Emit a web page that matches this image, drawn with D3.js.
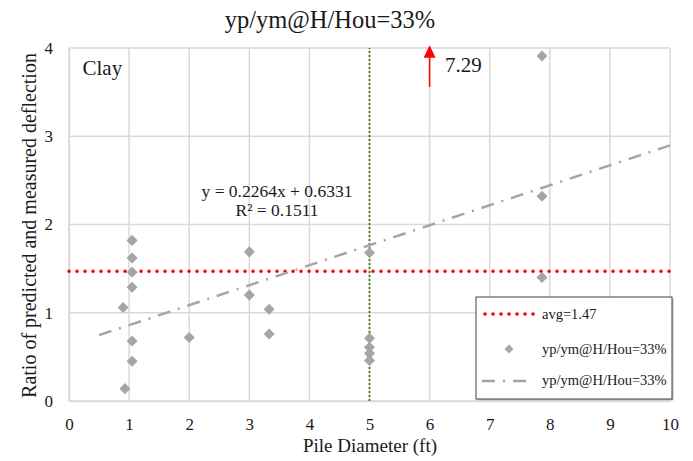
<!DOCTYPE html>
<html>
<head>
<meta charset="utf-8">
<script src="https://cdn.jsdelivr.net/npm/d3@7"></script>
<style>
  body { margin: 0; background: #fff; }
</style>
</head>
<body>
<div id="chart"></div>
<script>
// Data
const pileDiameter = [1.05, 1.05, 1.05, 1.05, 0.9, 1.05, 1.05, 0.93, 2.0, 3.0, 3.0, 3.33, 3.33, 5.0, 5.0, 5.0, 5.0, 5.0, 7.87, 7.87, 7.87];
const ratio = [1.82, 1.62, 1.46, 1.29, 1.06, 0.68, 0.45, 0.14, 0.72, 1.69, 1.20, 1.04, 0.76, 1.68, 0.71, 0.61, 0.54, 0.46, 3.91, 2.32, 1.40];
const avgValue = 1.47;
const trendSlope = 0.2264, trendIntercept = 0.6331;
const trendRange = [0.5, 10];
const xTicks = [0, 1, 2, 3, 4, 5, 6, 7, 8, 9, 10];
const yTicks = [0, 1, 2, 3, 4];
const seriesName = "yp/ym@H/Hou=33%";

const width = 693, height = 461;
const margin = { left: 69, right: 23, top: 48, bottom: 60 };
const serif = "'Liberation Serif', 'Times New Roman', Times, serif";

const svg = d3.select("#chart").append("svg")
    .attr("width", width)
    .attr("height", height)
    .style("font-family", serif);

const x = d3.scaleLinear().domain([0, 10]).range([margin.left, width - margin.right]);
const y = d3.scaleLinear().domain([0, 4]).range([height - margin.bottom, margin.top]);

// Gridlines
svg.append("g").selectAll("line")
    .data(xTicks)
    .enter().append("line")
    .attr("x1", d => x(d)).attr("x2", d => x(d))
    .attr("y1", y(0)).attr("y2", y(4))
    .attr("stroke", "#d9d9d9").attr("stroke-width", 1.5);

svg.append("g").selectAll("line")
    .data(yTicks)
    .enter().append("line")
    .attr("x1", x(0)).attr("x2", x(10))
    .attr("y1", d => y(d)).attr("y2", d => y(d))
    .attr("stroke", "#d9d9d9").attr("stroke-width", 1.5);

// Axes (labels only; lines come from grid)
const xAxis = svg.append("g")
    .attr("transform", `translate(0,${y(0)})`)
    .call(d3.axisBottom(x).tickValues(xTicks).tickFormat(d3.format("d")).tickSize(0).tickPadding(17));
xAxis.attr("font-family", null).attr("font-size", null);
xAxis.select(".domain").attr("stroke", "#d9d9d9").attr("stroke-width", 1.5);
xAxis.selectAll("text").style("font-size", "17px").style("font-family", serif).attr("fill", "#1a1a1a");

const yAxis = svg.append("g")
    .attr("transform", `translate(${x(0)},0)`)
    .call(d3.axisLeft(y).tickValues(yTicks).tickFormat(d3.format("d")).tickSize(0).tickPadding(16));
yAxis.attr("font-family", null).attr("font-size", null);
yAxis.select(".domain").attr("stroke", "#d9d9d9").attr("stroke-width", 1.5);
yAxis.selectAll("text").style("font-size", "17px").style("font-family", serif).attr("fill", "#1a1a1a");

// Vertical green dotted line at x = 5
svg.append("line")
    .attr("x1", x(5)).attr("x2", x(5))
    .attr("y1", y(0)).attr("y2", y(4))
    .attr("stroke", "#548235").attr("stroke-width", 2)
    .attr("stroke-dasharray", "2,2");

// Average line
svg.append("line")
    .attr("x1", x(0)).attr("x2", x(10))
    .attr("y1", y(avgValue)).attr("y2", y(avgValue))
    .attr("stroke", "#ff0000").attr("stroke-width", 3.5)
    .attr("stroke-linecap", "round")
    .attr("stroke-dasharray", "0.1,7.9");

// Trendline
const trend = trendRange.map(d => [d, trendSlope * d + trendIntercept]);
svg.append("path")
    .datum(trend)
    .attr("d", d3.line().x(d => x(d[0])).y(d => y(d[1])))
    .attr("fill", "none")
    .attr("stroke", "#a5a5a5").attr("stroke-width", 2.5)
    .attr("stroke-dasharray", "13,8,2,8");

// Points
const diamond = d3.symbol().type(d3.symbolDiamond2).size(78);
svg.append("g").selectAll("path")
    .data(pileDiameter.map((d, i) => [d, ratio[i]]))
    .enter().append("path")
    .attr("d", diamond)
    .attr("transform", d => `translate(${x(d[0])},${y(d[1])})`)
    .attr("fill", "#a5a5a5");

// Arrow indicating off-scale value
svg.append("line")
    .attr("x1", x(6)).attr("x2", x(6))
    .attr("y1", y(3.56)).attr("y2", y(3.9))
    .attr("stroke", "#ff0000").attr("stroke-width", 1.5);
svg.append("path")
    .attr("d", `M${x(6) - 6},${y(3.89)}L${x(6)},${y(4.03)}L${x(6) + 6},${y(3.89)}Z`)
    .attr("fill", "#ff0000");

const label = (sel, size) => sel.style("font-size", size + "px").attr("fill", "#1a1a1a");

label(svg.append("text")
    .attr("x", 445).attr("y", 71.5)
    .text("7.29"), 21);

// Annotations
label(svg.append("text")
    .attr("x", 82.5).attr("y", 75)
    .text("Clay"), 21);

label(svg.append("text")
    .attr("x", 277).attr("y", 196.5)
    .attr("text-anchor", "middle")
    .text("y = 0.2264x + 0.6331"), 17.5);
label(svg.append("text")
    .attr("x", 277).attr("y", 215.5)
    .attr("text-anchor", "middle")
    .text("R² = 0.1511"), 17.5);

// Title and axis labels
label(svg.append("text")
    .attr("x", 330).attr("y", 28)
    .attr("text-anchor", "middle")
    .text(seriesName), 24.5);

label(svg.append("text")
    .attr("x", 370).attr("y", 452)
    .attr("text-anchor", "middle")
    .text("Pile Diameter (ft)"), 19);

label(svg.append("text")
    .attr("transform", `translate(36,${(y(0) + y(4)) / 2 + 1}) rotate(-90)`)
    .attr("text-anchor", "middle")
    .text("Ratio of predicted and measured deflection"), 20);

// Legend
const legend = svg.append("g").attr("transform", "translate(476,297)");
legend.append("rect")
    .attr("x", 1.5).attr("y", 1.5)
    .attr("width", 196).attr("height", 102)
    .attr("fill", "#bfbfbf");
legend.append("rect")
    .attr("width", 196).attr("height", 102)
    .attr("fill", "#fff")
    .attr("stroke", "#404040").attr("stroke-width", 1);

legend.append("line")
    .attr("x1", 9).attr("x2", 58).attr("y1", 17).attr("y2", 17)
    .attr("stroke", "#ff0000").attr("stroke-width", 3.5)
    .attr("stroke-linecap", "round")
    .attr("stroke-dasharray", "0.1,7.9");
legend.append("path")
    .attr("d", d3.symbol().type(d3.symbolDiamond2).size(52))
    .attr("transform", "translate(33,52)")
    .attr("fill", "#a5a5a5");
legend.append("line")
    .attr("x1", 6).attr("x2", 58).attr("y1", 84).attr("y2", 84)
    .attr("stroke", "#a5a5a5").attr("stroke-width", 2.5)
    .attr("stroke-dasharray", "13,8,2,8");

const legendLabels = ["avg=" + avgValue, seriesName, seriesName];
legend.selectAll("text.lbl")
    .data(legendLabels)
    .enter().append("text")
    .attr("class", "lbl")
    .attr("x", 66)
    .attr("y", (d, i) => [21.5, 56.5, 88][i])
    .style("font-size", "14.5px")
    .attr("fill", "#1a1a1a")
    .text(d => d);
</script>
</body>
</html>
